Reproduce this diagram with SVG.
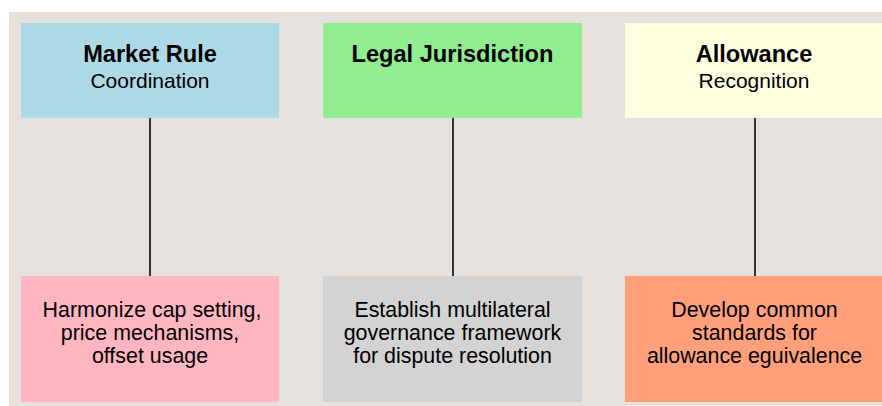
<svg xmlns="http://www.w3.org/2000/svg" width="882" height="406" viewBox="0 0 882 406">
<style>
  text { font-family: "Liberation Sans", Arial, Helvetica, sans-serif; fill: #000; text-anchor: middle; }
  .title { font-size: 23.6px; font-weight: bold; }
  .sub { font-size: 21px; }
  .body { font-size: 21.4px; }
  .conn { stroke: #333333; stroke-width: 2; fill: none; }
</style>
<rect x="0" y="0" width="882" height="406" fill="#ffffff"/>
<rect x="9" y="12" width="873" height="394" fill="#e6e1dc"/>
<g id="connectors">
  <line class="conn" x1="150" y1="118" x2="150" y2="276"/>
  <line class="conn" x1="453" y1="118" x2="453" y2="276"/>
  <line class="conn" x1="755" y1="118" x2="755" y2="276"/>
</g>
<g id="market-rule">
  <rect x="21" y="23" width="258" height="95" fill="#add8e6"/>
  <text class="title" x="150" y="62">Market Rule</text>
  <text class="sub" x="150" y="87.5">Coordination</text>
</g>
<g id="legal-jurisdiction">
  <rect x="323" y="23" width="259" height="95" fill="#90ee90"/>
  <text class="title" x="452.5" y="62">Legal Jurisdiction</text>
</g>
<g id="allowance">
  <rect x="625" y="23" width="258" height="95" fill="#ffffe0"/>
  <text class="title" x="754" y="62">Allowance</text>
  <text class="sub" x="754" y="87.5">Recognition</text>
</g>
<g id="market-action">
  <rect x="21" y="276" width="258" height="126" fill="#ffb6c1"/>
  <text class="body" x="152" y="317">Harmonize cap setting,</text>
  <text class="body" x="150" y="340">price mechanisms,</text>
  <text class="body" x="150" y="363">offset usage</text>
</g>
<g id="legal-action">
  <rect x="323" y="276" width="259" height="126" fill="#d3d3d3"/>
  <text class="body" x="452.5" y="317">Establish multilateral</text>
  <text class="body" x="452.5" y="340">governance framework</text>
  <text class="body" x="452.5" y="363">for dispute resolution</text>
</g>
<g id="allowance-action">
  <rect x="625" y="276" width="258" height="126" fill="#ffa07a"/>
  <text class="body" x="754.5" y="317">Develop common</text>
  <text class="body" x="754.5" y="340">standards for</text>
  <text class="body" x="754.5" y="363">allowance eguivalence</text>
</g>
</svg>
